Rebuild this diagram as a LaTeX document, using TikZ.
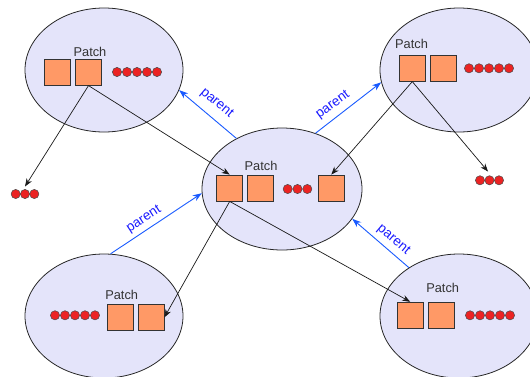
\documentclass[tikz,border=0pt]{standalone}
\usepackage{fontspec}
\setmainfont{Liberation Sans}
\usetikzlibrary{arrows.meta,shapes.geometric}
\definecolor{ellfill}{RGB}{228,228,250}
\definecolor{sqfill}{RGB}{255,153,102}
\definecolor{dotred}{RGB}{235,35,35}
\definecolor{txtgray}{RGB}{51,51,51}
\definecolor{parblue}{RGB}{25,25,255}
\definecolor{arrblue}{RGB}{25,90,255}
\begin{document}
\begin{tikzpicture}[x=1pt,y=-1pt,
  cell/.style={ellipse, draw=black!85, fill=ellfill, line width=0.8pt, minimum width=158pt, minimum height=124pt, inner sep=0pt},
  patchbox/.style={rectangle, draw=black!80, fill=sqfill, line width=0.8pt, minimum size=26pt, inner sep=0pt},
  ptxt/.style={font=\fontsize{12.8}{14}\selectfont, text=txtgray, inner sep=0pt},
  ltxt/.style={font=\fontsize{13.5}{15}\selectfont, text=parblue, inner sep=0pt},
  link/.style={draw=black!90, line width=0.7pt, -{Stealth[length=8pt,width=6pt]}},
  parlink/.style={draw=arrblue, line width=0.9pt, -{Stealth[length=9pt,width=6.5pt]}},
  rdot/.style={draw=black!70, fill=dotred, line width=0.5pt}
]
\useasboundingbox (0,0) rectangle (530,376);

% cells
\node[cell] (TL) at (104,70) {};
\node[cell] (TR) at (459,70) {};
\node[cell, minimum width=160pt, minimum height=122pt] (CC) at (282,189) {};
\node[cell] (BL) at (104,316) {};
\node[cell] (BR) at (459,316) {};

% patch labels
\node[ptxt] (tTL) at (90,52) {Patch};
\node[ptxt] (tCC) at (261,166) {Patch};
\node[ptxt] (tTR) at (411.5,44) {Patch};
\node[ptxt] (tBL) at (121.7,295) {Patch};
\node[ptxt] (tBR) at (442.7,288.3) {Patch};

% patches
\node[patchbox] (A1) at (57.5,72.2) {};
\node[patchbox] (A2) at (88.5,72.2) {};
\node[patchbox] (C1) at (229.7,188) {};
\node[patchbox] (C2) at (260.3,188) {};
\node[patchbox] (C3) at (331.3,188) {};
\node[patchbox] (B1) at (412.3,68.2) {};
\node[patchbox] (B2) at (443.3,68.2) {};
\node[patchbox] (D1) at (120,317.3) {};
\node[patchbox] (D2) at (151,317.3) {};
\node[patchbox] (E1) at (410.2,315.2) {};
\node[patchbox] (E2) at (441.3,315.2) {};

% dots
\foreach \x in {117,127,137,147,157} \draw[rdot] (\x,72) circle (4.6);
\foreach \x in {469,479,489,499,509} \draw[rdot] (\x,68.3) circle (4.6);
\foreach \x in {55,65,75,85,95} \draw[rdot] (\x,315.3) circle (4.6);
\foreach \x in {470,480,490,500,510} \draw[rdot] (\x,315.3) circle (4.6);
\foreach \x in {287.7,297.5,307.3} \draw[rdot] (\x,189) circle (4.6);
\foreach \x in {15.7,25,34.3} \draw[rdot] (\x,194) circle (4.6);
\foreach \x in {480,489.5,499} \draw[rdot] (\x,180.3) circle (4.6);
\coordinate (L3) at (25,186.5);
\coordinate (R3) at (488,171.5);

% child links
\draw[link] (A2.south) -- (C1.north);
\draw[link] (A2.south) -- (L3);
\draw[link] (B1.south) -- (C3.north);
\draw[link] (B1.south) -- (R3);
\draw[link] (C1.south) -- (D2.east);
\draw[link] (C1.south) -- (E1.north);

% parent links
\draw[parlink] (CC.132) -- (TL.-15);
\draw[parlink] (CC.59) -- (TR.189.5);
\draw[parlink] (BL.84.5) -- (CC.183);
\draw[parlink] (BR.136.7) -- (CC.-23.7);

\node[ltxt, rotate=-40] (p1) at (216.7,103.3) {parent};
\node[ltxt, rotate=36] (p2) at (333,105) {parent};
\node[ltxt, rotate=33] (p3) at (144,219.3) {parent};
\node[ltxt, rotate=-40] (p4) at (393.5,240) {parent};
\end{tikzpicture}
\end{document}
